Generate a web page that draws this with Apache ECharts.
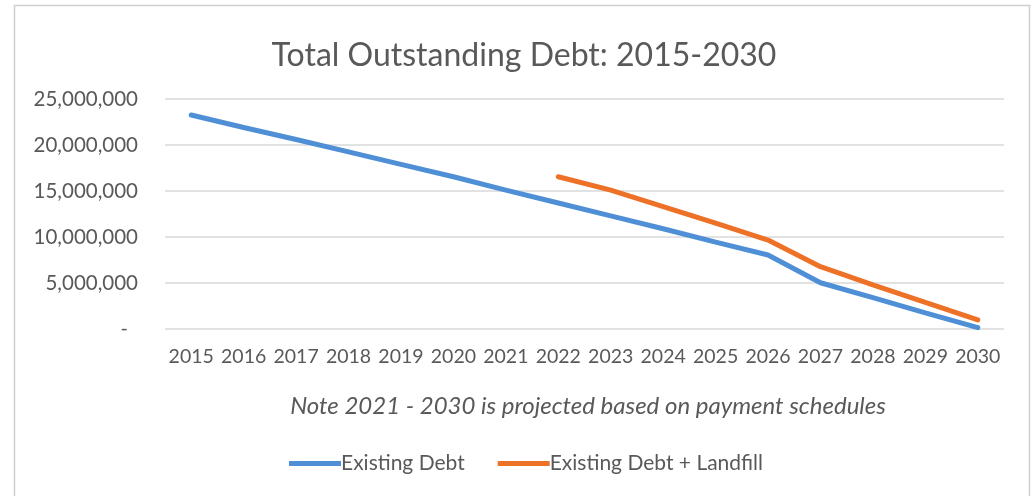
<!DOCTYPE html>
<html>
<head>
<meta charset="utf-8">
<script src="https://cdn.jsdelivr.net/npm/echarts@6/dist/echarts.min.js"></script>
<style>
  html, body { margin: 0; padding: 0; background: #fff; }
  #chart { width: 1033px; height: 496px; }
</style>
</head>
<body>
<div id="chart"></div>
<script>
var years = ['2015', '2016', '2017', '2018', '2019', '2020', '2021', '2022',
  '2023', '2024', '2025', '2026', '2027', '2028', '2029', '2030'];

// (approximate)
var existingDebt = [23260000, 21900000, 20600000, 19250000, 17900000, 16550000,
  15100000, 13700000, 12300000, 10900000, 9450000, 8040000, 5030000, 3400000,
  1750000, 150000];

var withLandfill = [null, null, null, null, null, null, null, 16550000,
  15100000, 13300000, 11500000, 9670000, 6770000, 4800000, 2900000, 980000];

var seriesNames = ['Existing Debt', 'Existing Debt + Landfill'];
var colors = ['#4f8fd6', '#ed7228'];

var textColor = '#595959';
var fontFamily = 'Lato, "Open Sans", sans-serif';

var chart = echarts.init(document.getElementById('chart'), null, { renderer: 'canvas' });

var option = {
  backgroundColor: '#fff',
  animation: false,
  color: colors,
  title: {
    text: 'Total Outstanding Debt: 2015-2030',
    left: 519,
    textAlign: 'center',
    top: 35,
    textStyle: {
      color: textColor,
      fontFamily: fontFamily,
      fontWeight: 'normal',
      fontSize: 32
    }
  },
  legend: {
    left: 284,
    top: 448,
    itemWidth: 52,
    itemHeight: 5,
    itemGap: 33,
    icon: 'rect',
    textStyle: {
      color: textColor,
      fontFamily: fontFamily,
      fontSize: 21,
      padding: [0, 0, 0, -5]
    },
    data: seriesNames
  },
  grid: {
    left: 165,
    right: 29,
    top: 99,
    bottom: 167,
    containLabel: false
  },
  xAxis: {
    type: 'category',
    data: years,
    boundaryGap: true,
    axisLine: { show: false },
    axisTick: { show: false },
    axisLabel: {
      margin: 18,
      interval: 0,
      color: textColor,
      fontFamily: fontFamily,
      fontSize: 19.5
    }
  },
  yAxis: {
    type: 'value',
    min: 0,
    max: 25000000,
    interval: 5000000,
    axisLine: { show: false },
    axisTick: { show: false },
    splitLine: { lineStyle: { color: '#d9d9d9', width: 1.5 } },
    axisLabel: {
      margin: 27,
      color: textColor,
      fontFamily: fontFamily,
      fontSize: 20.5,
      formatter: function (v) {
        if (v === 0) return '{z|-}';
        return v.toLocaleString('en-US');
      },
      rich: {
        z: { color: textColor, fontFamily: fontFamily, fontSize: 20, padding: [0, 10, 0, 0] }
      }
    }
  },
  graphic: [
    {
      type: 'rect',
      shape: { x: 14.5, y: 5.5, width: 1015, height: 500 },
      style: { fill: 'none', stroke: '#cfcfcf', lineWidth: 1.5 },
      silent: true
    },
    {
      type: 'text',
      x: 588,
      y: 406,
      style: {
        text: 'Note 2021 - 2030 is projected based on payment schedules',
        fill: textColor,
        font: 'italic 24px ' + fontFamily,
        align: 'center',
        verticalAlign: 'middle'
      }
    }
  ],
  series: [
    {
      name: seriesNames[0],
      type: 'line',
      data: existingDebt,
      showSymbol: false,
      symbol: 'none',
      lineStyle: { width: 5, color: colors[0], cap: 'round' }
    },
    {
      name: seriesNames[1],
      type: 'line',
      data: withLandfill,
      showSymbol: false,
      symbol: 'none',
      connectNulls: false,
      lineStyle: { width: 5, color: colors[1], cap: 'round' }
    }
  ]
};

chart.setOption(option);
</script>
</body>
</html>
